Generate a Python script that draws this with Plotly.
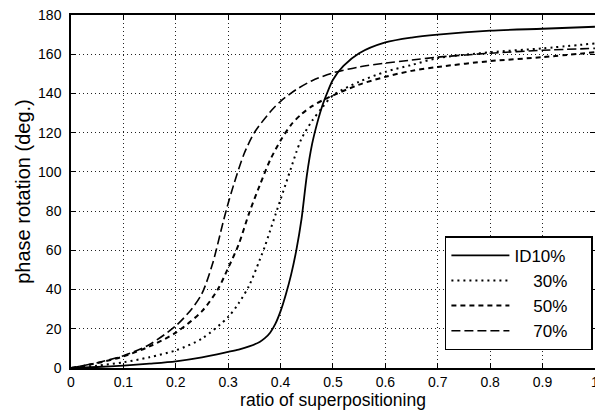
import plotly.graph_objects as go

# ---- data ----
x_id10 = [0, 0.05, 0.1, 0.15, 0.2, 0.25, 0.3, 0.32, 0.34, 0.36, 0.37, 0.38, 0.39, 0.4, 0.41, 0.42,
          0.43, 0.44, 0.45, 0.46, 0.47, 0.48, 0.49, 0.5, 0.52, 0.55, 0.6, 0.65, 0.7, 0.8, 0.9, 1.0]
y_id10 = [0, 0.5, 1.2, 2.2, 3.4, 5.4, 8.2, 9.4, 11, 13.3, 15.2, 18, 22.5, 29, 37.5, 47.5,
          60, 76, 98, 114, 125, 134, 141, 147, 154, 160.5, 166, 168.5, 170, 172, 173, 174]

x_30 = [0, 0.05, 0.1, 0.15, 0.2, 0.25, 0.3, 0.32, 0.34, 0.36, 0.37, 0.38, 0.39, 0.4, 0.41,
        0.42, 0.43, 0.44, 0.46, 0.48, 0.5, 0.55, 0.6, 0.65, 0.7, 0.8, 0.9, 1.0]
y_30 = [0, 1.2, 2.9, 5.5, 9, 15, 26, 33, 42, 55, 62, 70, 78, 86, 94,
        102, 110, 117, 126, 133, 139, 146, 151, 154.5, 158, 161, 163, 165.5]

x_50 = [0, 0.05, 0.1, 0.15, 0.2, 0.25, 0.28, 0.3, 0.32, 0.34, 0.36, 0.38, 0.4, 0.42,
        0.44, 0.46, 0.48, 0.5, 0.55, 0.6, 0.65, 0.7, 0.8, 0.9, 1.0]
y_50 = [0, 2.5, 5.9, 11, 18, 29, 40, 51, 63, 79, 93, 106, 116, 124,
        129.5, 133.5, 136.5, 139, 144.5, 148.5, 151.5, 153.5, 156.5, 158.5, 161]

x_70 = [0, 0.05, 0.1, 0.15, 0.2, 0.23, 0.25, 0.27, 0.29, 0.3, 0.31, 0.33, 0.35, 0.38, 0.4,
        0.43, 0.46, 0.5, 0.55, 0.6, 0.65, 0.7, 0.8, 0.9, 1.0]
y_70 = [0, 2.7, 6.2, 12, 21.5, 30, 38, 53, 74, 84, 93, 109, 120, 130.5, 136,
        142, 146.5, 150.5, 153.5, 155.5, 157, 158.5, 160.5, 162, 163]

series_names = ["ID10%", "30%", "50%", "70%"]

x_tickvals = [0, 0.1, 0.2, 0.3, 0.4, 0.5, 0.6, 0.7, 0.8, 0.9, 1.0]
x_ticktext = ["0", "0.1", "0.2", "0.3", "0.4", "0.5", "0.6", "0.7", "0.8", "0.9", "1"]
y_tickvals = [0, 20, 40, 60, 80, 100, 120, 140, 160, 180]

# ---- figure ----
FONT = "Liberation Sans, Arial, Helvetica, sans-serif"
NB = "\u00a0"
lead = [0, 4, 4, 4]          # right-align the legend texts
tail = NB * 4 + "\u200b"

fig = go.Figure()
styles = [
    (x_id10, y_id10, dict(color="black", width=1.8, dash="solid")),
    (x_30, y_30, dict(color="black", width=2, dash="2px,4px")),
    (x_50, y_50, dict(color="black", width=2, dash="5px,4px")),
    (x_70, y_70, dict(color="black", width=1.6, dash="9px,4px")),
]
for i, (xs, ys, ln) in enumerate(styles):
    ln["shape"] = "spline"
    ln["smoothing"] = 0.8
    fig.add_trace(go.Scatter(x=xs, y=ys, mode="lines",
                             name=NB * lead[i] + series_names[i] + tail, line=ln))

axis_common = dict(
    showline=True, linecolor="black", linewidth=1.5, mirror="ticks",
    ticks="inside", ticklen=5, tickcolor="black", tickwidth=1,
    showgrid=True, gridcolor="#222", gridwidth=1, griddash="1px,3px",
    zeroline=False, ticklabeloverflow="allow", automargin=False,
    tickfont=dict(family=FONT, size=14, color="black"),
)

fig.update_xaxes(range=[0, 1.0001], tickvals=x_tickvals, ticktext=x_ticktext,
                 title=dict(text="ratio of superpositioning",
                            font=dict(family=FONT, size=17.5, color="black"), standoff=0),
                 **axis_common)
fig.update_yaxes(range=[0, 180], tickvals=y_tickvals, ticklabelstandoff=5,
                 title=dict(text="phase rotation (deg.)",
                            font=dict(family=FONT, size=20, color="black"), standoff=2),
                 **axis_common)

# the page body has an 8px margin, so the figure is laid out 8px up/left
fig.update_layout(
    width=603, height=415,
    margin=dict(l=63, r=16, t=7, b=55, autoexpand=False),
    paper_bgcolor="white", plot_bgcolor="white",
    font=dict(family=FONT, color="black"),
    legend=dict(x=0.996, y=0.05, xanchor="right", yanchor="bottom",
                bgcolor="white", bordercolor="black", borderwidth=1.5,
                font=dict(family=FONT, size=17, color="black"),
                itemwidth=58, tracegroupgap=0),
    showlegend=True,
)

fig.write_html("out.html")
